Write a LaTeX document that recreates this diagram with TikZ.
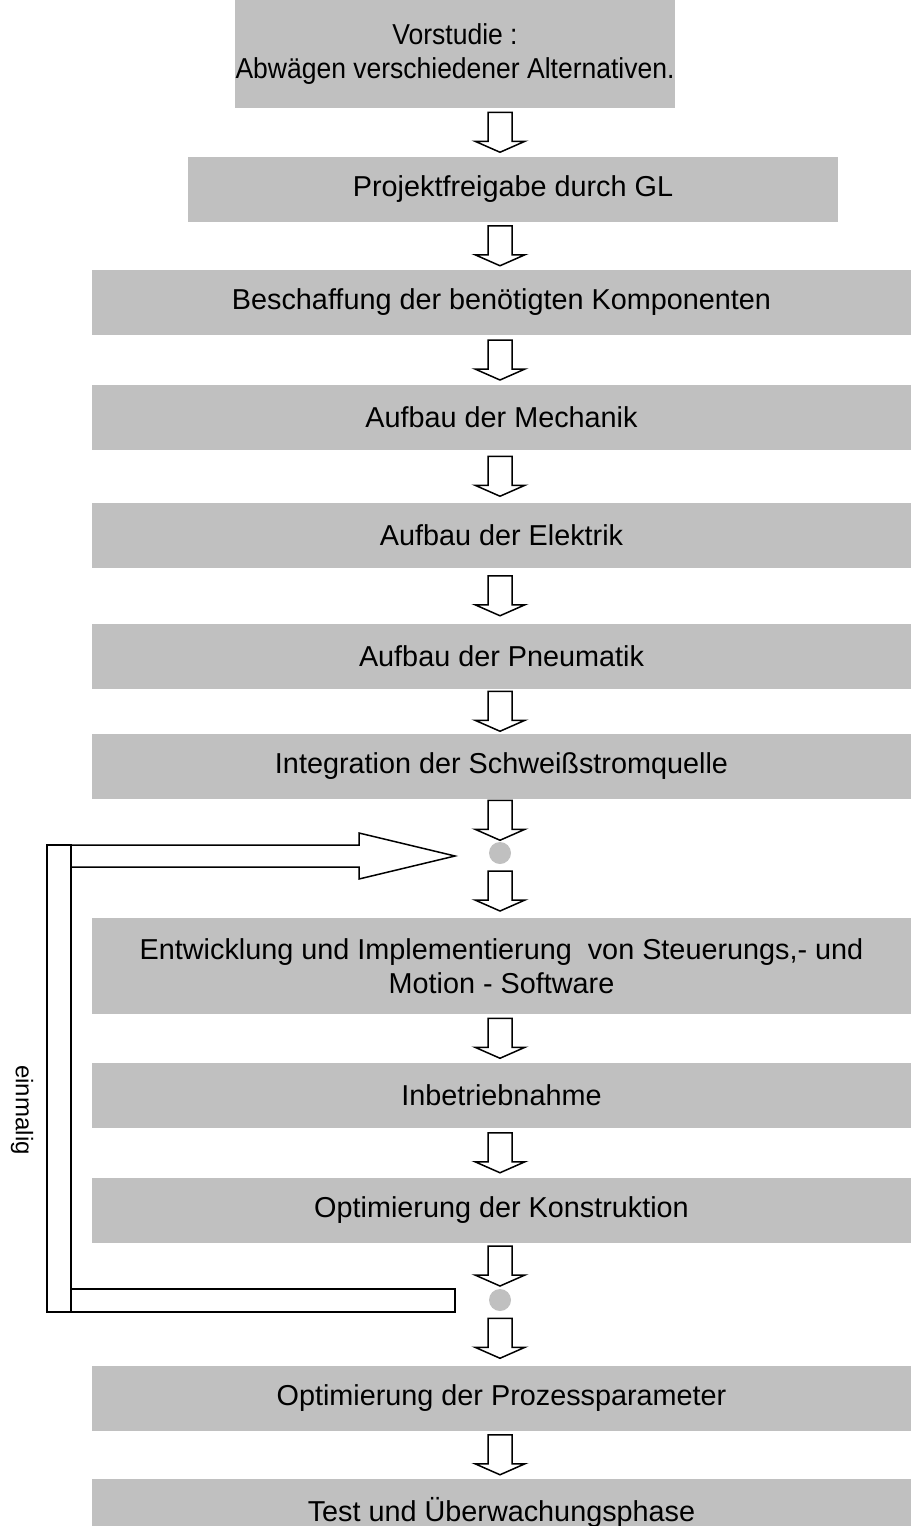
\documentclass[tikz,border=0pt]{standalone}
\usepackage{fontspec}
\usepackage{graphicx}
\setmainfont{Liberation Sans}
\usetikzlibrary{calc}
\definecolor{boxgrau}{RGB}{192,192,192}
\tikzset{
	kasten/.style={fill=boxgrau, inner sep=0pt, minimum height=65pt, align=center},
	punkt/.style={circle, fill=boxgrau, minimum size=22pt, inner sep=0pt},
	rahmen/.style={line width=1.5pt, fill=white},
	blockpfeil/.pic={\draw[rahmen] (-12,-20) -- (-12,9) -- (-25,9) -- (0,20) -- (25,9) -- (12,9) -- (12,-20) -- cycle;}
}

\begin{document}
\begin{tikzpicture}[x=1pt, y=-1pt, font=\fontsize{28.8}{34}\selectfont]
			\useasboundingbox (0,0) rectangle (911,1526);
			% Kästen
			\node[kasten, minimum width=440pt, minimum height=108pt] (b1) at (455,54) {\scalebox{0.92}[1]{Vorstudie :}\\\scalebox{0.92}[1]{Abwägen verschiedener Alternativen.}};
			\node[kasten, minimum width=650pt] (b2) at (513,189) {Projektfreigabe durch GL};
			\node[kasten, minimum width=819pt] (b3) at (501.5,302.5) {Beschaffung der benötigten Komponenten};
			\node[kasten, minimum width=819pt] (b4) at (501.5,417.5) {Aufbau der Mechanik};
			\node[kasten, minimum width=819pt] (b5) at (501.5,535) {Aufbau der Elektrik};
			\node[kasten, minimum width=819pt] (b6) at (501.5,656.5) {Aufbau der Pneumatik};
			\node[kasten, minimum width=819pt] (b7) at (501.5,766) {Integration der Schweißstromquelle};
			\node[punkt] (dot1) at (500,853) {};
			\node[kasten, minimum width=819pt, minimum height=96pt] (b8) at (501.5,966) {Entwicklung und Implementierung\ \ von Steuerungs,- und\\Motion - Software};
			\node[kasten, minimum width=819pt] (b9) at (501.5,1095) {Inbetriebnahme};
			\node[kasten, minimum width=819pt] (b10) at (501.5,1210.5) {Optimierung der Konstruktion};
			\node[punkt] (dot2) at (500,1300) {};
			\node[kasten, minimum width=819pt] (b11) at (501.5,1398) {Optimierung der Prozessparameter};
			\node[kasten, minimum width=819pt, minimum height=66pt] (b12) at (501.5,1512) {Test und Überwachungsphase};
			% Pfeile
			\foreach \a/\b in {b1/b2,b2/b3,b3/b4,b4/b5,b5/b6,b6/b7,b7/dot1,dot1/b8,b8/b9,b9/b10,b10/dot2,dot2/b11,b11/b12}
			\path let \p1=($(\a.south)!0.5!(\b.north)$), \p2=(dot1) in (\x2,\y1) pic {blockpfeil};
			% Rücksprung (einmalig)
			\coordinate (spitze) at ($(dot1)+(-45,3)$);
			\coordinate (ende) at ($(dot2)+(-45,0)$);
			\draw[rahmen] ($(spitze)+(-408,-11)$) rectangle ($(ende)+(-384,12)$);
			\draw[rahmen] ($(ende)+(-384,-11)$) rectangle ($(ende)+(0,12)$);
			\draw[rahmen] (spitze) -- ++(-96,-23) -- ++(0,12) -- ++(-288,0) -- ++(0,22) -- ++(288,0) -- ++(0,12) -- cycle;
			\node[rotate=-90, font=\fontsize{24}{28}\selectfont] (einmal) at (22,1110) {einmalig};
		\end{tikzpicture}
\end{document}
